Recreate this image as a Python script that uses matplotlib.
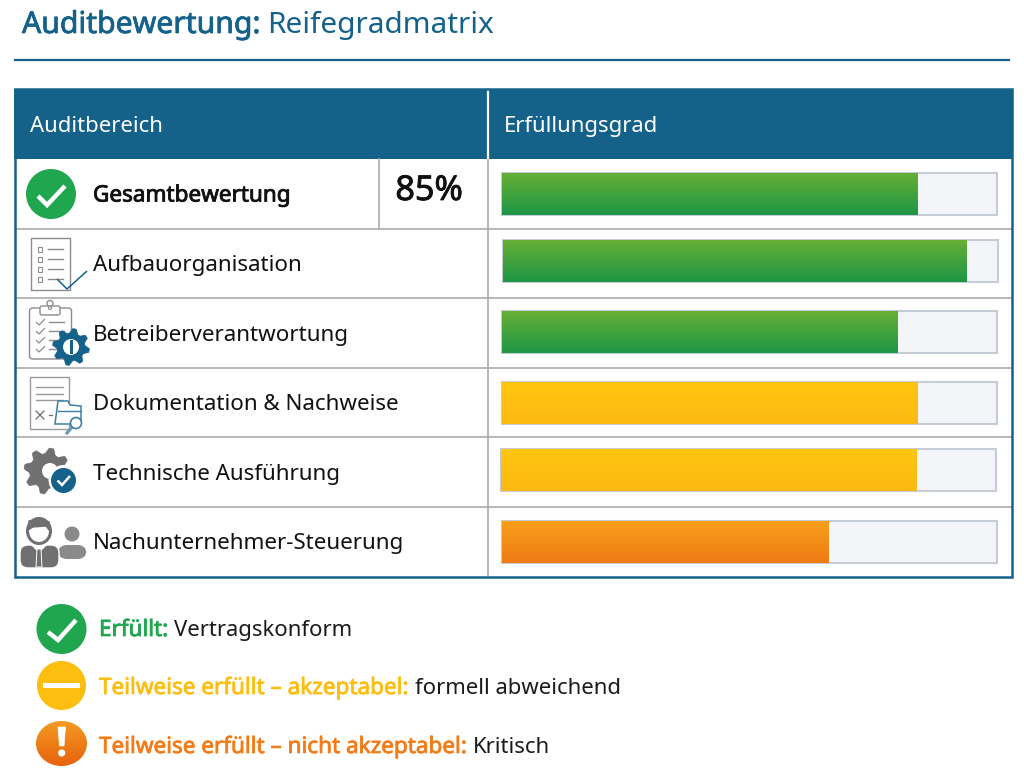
import matplotlib
matplotlib.use('Agg')
import matplotlib.pyplot as plt
import matplotlib.patheffects as pe
import numpy as np
from matplotlib.colors import LinearSegmentedColormap
from matplotlib.patches import Circle, Ellipse, FancyBboxPatch, Polygon, Rectangle

plt.rcParams['font.family'] = ['Noto Sans', 'DejaVu Sans']

# Data
bereiche = ['Gesamtbewertung', 'Aufbauorganisation', 'Betreiberverantwortung',
            'Dokumentation & Nachweise', 'Technische Ausführung', 'Nachunternehmer-Steuerung']
erfuellung = [84, 93.6, 80, 84, 84, 66]
status = ['gruen', 'gruen', 'gruen', 'gelb', 'gelb', 'orange']
gesamt_label = '85%'
kopf = ['Auditbereich', 'Erfüllungsgrad']
legende = [('Erfüllt:', 'Vertragskonform'),
           ('Teilweise erfüllt – akzeptabel:', 'formell abweichend'),
           ('Teilweise erfüllt – nicht akzeptabel:', 'Kritisch')]

# Styles
BLAU = '#14618A'
GRAU = '#707070'
HELLGRAU = '#8C8C8C'
LINIE = '#ABABAB'
TEXT = '#1A1A1A'
VERLAUF = {'gruen': ('#66AF35', '#1E9646'),
           'gelb': ('#FFC60F', '#FDB913'),
           'orange': ('#F9A01B', '#EE7A14')}
zeilen_y = [159, 228.5, 298, 367.5, 437, 507, 576]
text_y = [201.5, 271, 341, 410, 480, 549]
track_dx = [0, 0.2, 0, 0, -0.3, 0]
track_dy = [0, -0.03, -0.01, 0.015, -0.03, 0.015]

fig = plt.figure(figsize=(10.24, 7.74), dpi=100)
ax = fig.add_axes([0, 0, 1, 1])
ax.set_xlim(0, 1024)
ax.set_ylim(774, 0)
ax.axis('off')


def fett(t, color, lw=0.55):
    # die Schrift hat hier keinen Bold-Schnitt, also mit Kontur verstaerken
    t.set_path_effects([pe.withStroke(linewidth=lw, foreground=color)])


def gear(cx, cy, r, color, zorder=4, teeth=8):
    # Zahnrad als Polygon
    winkel = np.linspace(0, 2 * np.pi, teeth * 4, endpoint=False) + np.pi / teeth / 4
    radien = np.tile([r, r, r * 0.76, r * 0.76], teeth)
    pts = np.c_[cx + radien * np.cos(winkel), cy + radien * np.sin(winkel)]
    ax.add_patch(Polygon(pts, closed=True, fc=color, ec=color, lw=0.5, zorder=zorder))


def haken(pts, color='white', lw=3.0, zorder=6):
    xs, ys = zip(*pts)
    ax.plot(xs, ys, color=color, lw=lw, solid_capstyle='butt', solid_joinstyle='miter', zorder=zorder)


def segmente(x, y, teile):
    # Text aus mehreren Stuecken nebeneinander setzen
    r = fig.canvas.get_renderer()
    for s, color, dick, size in teile:
        t = ax.text(x, y, s, color=color, fontsize=size, va='baseline', ha='left')
        if dick:
            fett(t, color)
        x = ax.transData.inverted().transform(t.get_window_extent(r).get_points())[1, 0]
        x += size * 0.36


def verlauf_patch(axis, patch, extent, farben):
    cm = LinearSegmentedColormap.from_list('v', farben)
    im = axis.imshow(np.linspace(0, 1, 64).reshape(-1, 1), cmap=cm, aspect='auto', extent=extent,
                     zorder=patch.get_zorder() + 0.1, interpolation='bilinear')
    im.set_clip_path(patch)


# Titel
segmente(22, 33, [('Auditbewertung:', BLAU, True, 21.7), ('Reifegradmatrix', BLAU, False, 21.5)])
ax.plot([15, 1009], [59.5, 59.5], color=BLAU, lw=1.6)

# Tabelle
ax.add_patch(Rectangle((14, 89), 998, 70, fc=BLAU, ec='none', zorder=1))
ax.plot([488, 488], [91, 158], color='white', lw=1.6, zorder=2)
ax.text(30, 132, kopf[0], color='white', fontsize=15.9, va='baseline')
ax.text(504, 132, kopf[1], color='white', fontsize=15.9, va='baseline')
for y in zeilen_y[1:-1]:
    ax.plot([15, 1011], [y, y], color=LINIE, lw=1.2, zorder=1)
ax.plot([488, 488], [159, 576], color=LINIE, lw=1.2, zorder=1)
ax.plot([379, 379], [159, 228.5], color=LINIE, lw=1.2, zorder=1)
ax.add_patch(Rectangle((14.5, 89), 997, 487.5, fc='none', ec=BLAU, lw=1.8, zorder=3))

for i, name in enumerate(bereiche):
    t = ax.text(93, text_y[i], name, color='#111111', fontsize=16.2 if i == 0 else 16.1, va='baseline')
    if i == 0:
        fett(t, '#111111', lw=0.6)
t = ax.text(429, 200, gesamt_label, color='#111111', fontsize=24.6, va='baseline', ha='center')
fett(t, '#111111', lw=0.6)

# Balken: eigene Achse von 0 bis 100 %
ax_bar = fig.add_axes([502 / 1024, 1 - 576 / 774, 495 / 1024, (576 - 159) / 774])
ax_bar.set_xlim(0, 100)
ax_bar.axis('off')
ax_bar.patch.set_alpha(0)
pos = np.arange(len(bereiche)) + np.array(track_dy)
tracks = ax_bar.barh(pos, 100, left=track_dx, height=0.6, color='#F3F5F8', edgecolor='#C5CCD8', linewidth=1.5, zorder=1)
for t in tracks:
    t.set_clip_on(False)
balken = ax_bar.barh(pos, erfuellung, left=track_dx, height=0.6, color='none', zorder=2)
for b, s in zip(balken, status):
    verlauf_patch(ax_bar, b, (b.get_x(), b.get_x() + b.get_width(), b.get_y() + b.get_height(), b.get_y()), VERLAUF[s])
ax_bar.set_xlim(0, 100)
ax_bar.set_ylim(5.5, -0.5)

# Icon Gesamtbewertung
ax.add_patch(Circle((51, 194), 25, fc='#1FA64E', ec='none', zorder=4))
haken([(38, 196), (47, 205), (65, 186)], lw=3.2)

# Icon Aufbauorganisation
ax.add_patch(Rectangle((31, 238), 39, 51.5, fc='white', ec=HELLGRAU, lw=1, zorder=4))
for y in [249, 259, 269, 279]:
    ax.add_patch(Rectangle((37.5, y - 2), 4.5, 4.5, fc='none', ec=HELLGRAU, lw=0.8, zorder=5))
    ax.plot([48, 63], [y, y], color=HELLGRAU, lw=1, zorder=5)
haken([(57, 279), (67, 289), (87, 271)], color=BLAU, lw=1.1)

# Icon Betreiberverantwortung
ax.add_patch(FancyBboxPatch((29.5, 308), 42, 51, boxstyle='round,pad=0,rounding_size=3', fc='white', ec=HELLGRAU, lw=1, zorder=4))
ax.add_patch(FancyBboxPatch((40, 306), 20, 9, boxstyle='round,pad=0,rounding_size=2', fc='white', ec=HELLGRAU, lw=1, zorder=5))
ax.add_patch(Circle((50, 303.5), 3, fc='white', ec=HELLGRAU, lw=1, zorder=4))
ax.add_patch(Circle((50, 308), 1.5, fc='white', ec=HELLGRAU, lw=0.8, zorder=6))
for y in [322, 331, 340, 349]:
    haken([(36, y), (39, y + 3), (45, y - 3)], color=HELLGRAU, lw=0.9, zorder=5)
    ax.plot([49, 64], [y, y], color=HELLGRAU, lw=1, zorder=5)
gear(71, 347, 18.5, BLAU, zorder=6)
ax.add_patch(Circle((71, 347), 8, fc='white', ec='none', zorder=7))
ax.add_patch(Rectangle((69.5, 340), 3, 14, fc=BLAU, ec='none', zorder=8))

# Icon Dokumentation
ax.add_patch(Rectangle((29.5, 376.5), 39.5, 52, fc='white', ec='#9A9A9A', lw=1, zorder=4))
for y in [387, 393.5, 400]:
    ax.plot([36, 63], [y, y], color='#9A9A9A', lw=1, zorder=5)
ax.plot([36, 44], [411, 419], color=GRAU, lw=0.9, zorder=5)
ax.plot([36, 44], [419, 411], color=GRAU, lw=0.9, zorder=5)
ax.plot([49, 52], [415, 415], color=GRAU, lw=0.9, zorder=5)
ax.add_patch(Polygon([(55, 424), (58, 401), (68, 401), (70, 405), (81, 406), (81, 424)], closed=True,
                     fc='white', ec='#3F7FA3', lw=1.1, zorder=6))
ax.plot([58, 81], [411, 411], color='#3F7FA3', lw=1, zorder=7)
ax.plot([67, 72], [433, 427], color='#6F9CB6', lw=2.4, zorder=7)
ax.add_patch(Circle((76, 423), 5.5, fc='white', ec='#3F7FA3', lw=1.2, zorder=8))

# Icon Technische Ausfuehrung
gear(47, 471, 23, GRAU, zorder=4)
ax.add_patch(Circle((50, 471), 8, fc='white', ec='none', zorder=5))
ax.add_patch(Circle((63.5, 480), 15, fc='white', ec='none', zorder=6))
ax.add_patch(Circle((63.5, 480.5), 12.5, fc=BLAU, ec='none', zorder=7))
haken([(57.5, 480.5), (62, 485), (70, 476)], lw=1.8, zorder=8)

# Icon Nachunternehmer
ax.add_patch(Circle((72, 534), 7.5, fc='#8A8A8A', ec='none', zorder=4))
ax.add_patch(FancyBboxPatch((58, 545), 28.5, 14, boxstyle='round,pad=0,rounding_size=9', fc='#8A8A8A', ec='none', zorder=4))
ax.add_patch(FancyBboxPatch((20, 545), 39, 23, boxstyle='round,pad=0,rounding_size=8', fc=GRAU, ec='white', lw=1, zorder=5))
ax.add_patch(Ellipse((39, 531), 23, 25, fc='white', ec=GRAU, lw=2.2, zorder=5))
ax.add_patch(Polygon([(28, 530), (29, 521), (38, 519), (49, 522), (50, 531), (46, 526), (33, 527)], closed=True, fc=GRAU, ec=GRAU, lw=1, zorder=6))
ax.add_patch(Polygon([(31, 545), (47, 545), (39, 553)], closed=True, fc='white', ec='none', zorder=6))
ax.add_patch(Polygon([(37, 549), (41, 549), (42, 567), (36, 567)], closed=True, fc=GRAU, ec='white', lw=0.7, zorder=7))

# Legende
ax.add_patch(Circle((61.5, 629), 25, fc='#1FA64E', ec='none', zorder=4))
haken([(48, 632), (58, 640), (76, 620)], lw=3.2)
ax.add_patch(Circle((61.5, 685.5), 24.5, fc='#FDBE10', ec='none', zorder=4))
ax.add_patch(Rectangle((43, 682.5), 37, 5.5, fc='white', ec='none', zorder=5))
oval = Ellipse((61.5, 743.5), 51, 45, fc='none', ec='none', zorder=4)
ax.add_patch(oval)
verlauf_patch(ax, oval, (35, 88, 767, 721), ('#F39A20', '#E8610F'))
ax.add_patch(Polygon([(58, 727), (65.5, 727), (64, 746), (59.5, 746)], closed=True, fc='white', ec='white', lw=0.5, zorder=6))
ax.add_patch(Circle((61.7, 753), 3.6, fc='white', ec='none', zorder=6))
ax.set_xlim(0, 1024)
ax.set_ylim(774, 0)

leg_farben = ['#1FA64E', '#FDBE10', '#F47B16']
leg_y = [636, 694, 753]
for (kurz, rest), c, y in zip(legende, leg_farben, leg_y):
    segmente(99, y, [(kurz, c, True, 16.2), (rest, TEXT, False, 15.9)])

fig.savefig('out.png', dpi=100)
